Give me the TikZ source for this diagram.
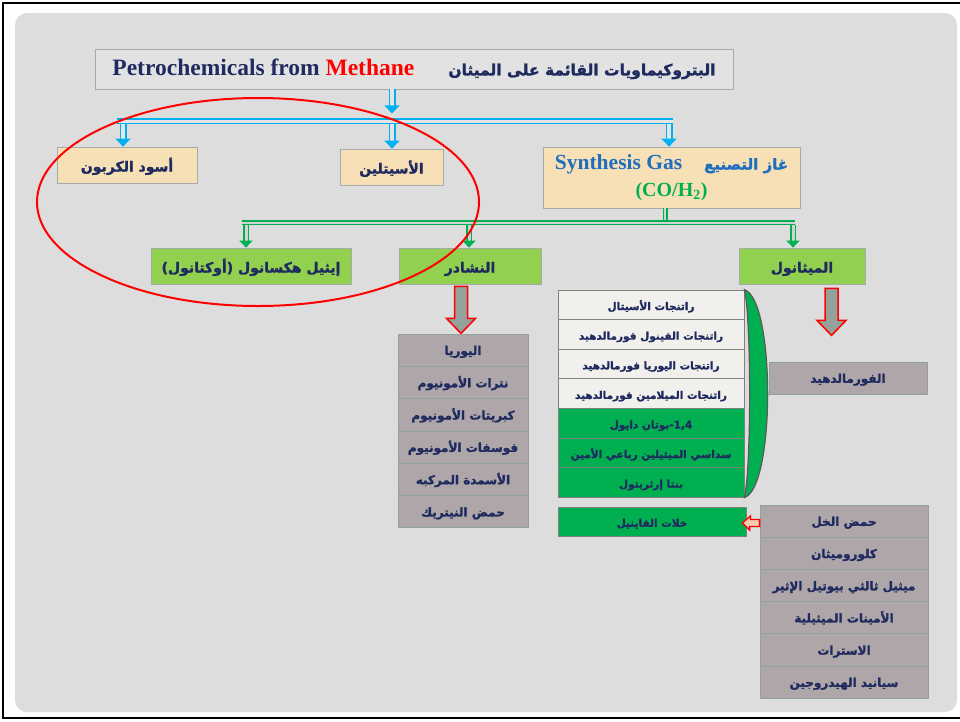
\documentclass[tikz,border=0pt]{standalone}
\usepackage{fontspec}
\setmainfont{Liberation Serif}
\newfontfamily\arabicfont[Script=Arabic, BoldFeatures={FakeBold=1.6}]{DejaVu Sans}
\TeXXeTstate=1
\usetikzlibrary{arrows.meta,calc}

\definecolor{navyt}{HTML}{1F2B5F}
\definecolor{skyb}{HTML}{00B0F0}
\definecolor{wheatf}{HTML}{F7DFB6}
\definecolor{limef}{HTML}{92D050}
\definecolor{grnf}{HTML}{00B050}
\definecolor{mauvef}{HTML}{AEA6A8}
\definecolor{sepc}{HTML}{8FA39B}
\definecolor{edgec}{HTML}{A3ACAA}
\definecolor{paperf}{HTML}{F2F0ED}
\definecolor{panelf}{HTML}{DDDDDD}
\definecolor{titlef}{HTML}{E2E2E2}
\definecolor{arrowf}{HTML}{95A19B}
\definecolor{peachf}{HTML}{F8CBAD}
\definecolor{synblue}{HTML}{1F6FC0}

\newcommand{\artext}[1]{{\arabicfont\bfseries\beginR #1\endR}}

\tikzset{
  flatbox/.style={draw=edgec, line width=0.8pt, inner sep=0pt, text=navyt},
  titlebox/.style={flatbox, fill=titlef, minimum width=638, minimum height=40},
  wheatbox/.style={flatbox, fill=wheatf, minimum height=36, text height=14.5pt, text depth=1.5pt, font=\fontsize{14}{16}\selectfont},
  limebox/.style={flatbox, fill=limef, minimum height=36, text height=14.5pt, text depth=1.5pt, font=\fontsize{14}{16}\selectfont},
  cell/.style={flatbox, draw=sepc, fill=mauvef, minimum height=32.3, text height=11pt, text depth=1.5pt, font=\fontsize{12}{14}\selectfont},
  rescell/.style={flatbox, draw=gray, fill=paperf, minimum width=186, minimum height=29.6, text height=11.5pt, text depth=1pt, font=\fontsize{10.5}{12}\selectfont},
  bluepipe/.style={draw=skyb, line width=1.5pt, double=gray!20, double distance=3pt},
  greenpipe/.style={draw=grnf, line width=1.5pt, double=gray!35, double distance=2pt},
  bluearr/.style={bluepipe, double distance=4pt, -{Triangle[length=8pt,width=15pt]}},
  greenarr/.style={greenpipe, double distance=3pt, -{Triangle[length=7pt,width=13pt]}},
  bigarrow/.style={draw=red, line width=1.5pt, fill=arrowf, line join=miter}
}

\begin{document}
\begin{tikzpicture}[x=1pt,y=-1pt]
  \useasboundingbox (0,0) rectangle (960,721);
  \fill[white] (0,0) rectangle (960,721);

  % Slide frame and panel
  \draw[line width=2.5pt] (3,3) rectangle (990,718);
  \fill[panelf, rounded corners=12pt] (15,13) rectangle (957,712);

  % Title
  \node[titlebox] (title) at (414,69) {{\fontsize{23.5}{26}\selectfont\bfseries Petrochemicals from \textcolor{red}{Methane}}\hspace{34pt}{\fontsize{15.5}{18}\selectfont\artext{البتروكيماويات القائمة على الميثان}}};

  % First level
  \node[wheatbox, minimum width=140] (carbon) at (127,165) {\artext{أسود الكربون}};
  \node[wheatbox, minimum width=103] (acet) at (391.5,167) {\artext{الأسيتلين}};
  \node[flatbox, fill=wheatf, minimum width=257, minimum height=61, align=center] (syn) at (671.5,177.5)
    {{\color{synblue}\fontsize{21.5}{23}\selectfont\bfseries Synthesis Gas}\hspace{22pt}{\color{synblue}\fontsize{15}{18}\selectfont\artext{غاز التصنيع}}\\[7pt]
     {\color{grnf}\fontsize{20}{22}\selectfont\bfseries (CO/H\textsubscript{2})}};

  % Blue branches
  \coordinate (jb) at (392,121);
  \coordinate (bl) at (117,121);
  \coordinate (br) at (673,121);
  \coordinate (b1) at (123,124);
  \coordinate (b2) at (392,124);
  \coordinate (b3) at (669,124);
  \draw[bluearr] (title.south -| jb) -- ++(0,24);
  \draw[bluepipe] (bl) -- (br);
  \draw[bluearr] (b1) -- (b1 |- carbon.north);
  \draw[bluearr] (b2) -- (b2 |- acet.north);
  \draw[bluearr] (b3) -- (b3 |- syn.north);

  % Second level
  \node[limebox, minimum width=200] (oct) at (251,266) {\artext{إيثيل هكسانول (أوكتانول)}};
  \node[limebox, minimum width=142] (amm) at (470,266) {\artext{النشادر}};
  \node[limebox, minimum width=126] (meth) at (802,266) {\artext{الميثانول}};

  % Green branches
  \coordinate (g0) at (665,222.5);
  \coordinate (gl) at (242,222.5);
  \coordinate (gr) at (795,222.5);
  \coordinate (g1) at (246,225);
  \coordinate (g2) at (469,225);
  \coordinate (g3) at (793,225);
  \draw[greenpipe] (syn.south -| g0) -- (g0);
  \draw[greenpipe] (gl) -- (gr);
  \draw[greenarr] (g1) -- (g1 |- oct.north);
  \draw[greenarr] (g2) -- (g2 |- amm.north);
  \draw[greenarr] (g3) -- (g3 |- meth.north);

  % Ammonia products
  \node[cell, minimum width=130] (amm1) at (463,350.2) {\artext{اليوريا}};
  \node[cell, minimum width=130] (amm2) at (463,382.5) {\artext{نترات الأمونيوم}};
  \node[cell, minimum width=130] (amm3) at (463,414.8) {\artext{كبريتات الأمونيوم}};
  \node[cell, minimum width=130] (amm4) at (463,447.1) {\artext{فوسفات الأمونيوم}};
  \node[cell, minimum width=130] (amm5) at (463,479.4) {\artext{الأسمدة المركبه}};
  \node[cell, minimum width=130] (amm6) at (463,511.7) {\artext{حمض النيتريك}};
  \draw[bigarrow] ($(amm.south)+(-15.5,2)$) -- ++(0,32) -- ++(-8,0) -- ++(14.5,15) -- ++(14.5,-15) -- ++(-8,0) -- ++(0,-32) -- cycle;

  % Formaldehyde resins
  \node[rescell] (res1) at (651,304.8) {\artext{راتنجات الأسيتال}};
  \node[rescell] (res2) at (651,334.4) {\artext{راتنجات الفينول فورمالدهيد}};
  \node[rescell] (res3) at (651,364.0) {\artext{راتنجات اليوريا فورمالدهيد}};
  \node[rescell] (res4) at (651,393.6) {\artext{راتنجات الميلامين فورمالدهيد}};
  \node[rescell, fill=grnf] (res5) at (651,423.2) {\artext{\beginL 1,4\endL-بوتان دايول}};
  \node[rescell, fill=grnf] (res6) at (651,452.8) {\artext{سداسي الميثيلين رباعي الأمين}};
  \node[rescell, fill=grnf] (res7) at (651,482.4) {\artext{بنتا إرثريتول}};
  \draw[draw=black!65, line width=1.2pt, fill=grnf] (res1.north east)
    .. controls ($(res1.north east)+(31,10)$) and ($(res7.south east)+(31,-10)$) .. (res7.south east)
    .. controls ($(res7.south east)+(7,-30)$) and ($(res1.north east)+(7,30)$) .. (res1.north east) -- cycle;

  % Methanol products
  \node[cell, minimum width=158, minimum height=32] (fa) at (848,378) {\artext{الفورمالدهيد}};
  \draw[bigarrow] ($(meth.south)+(23,4)$) -- ++(0,32) -- ++(-8,0) -- ++(14.5,15) -- ++(14.5,-15) -- ++(-8,0) -- ++(0,-32) -- cycle;
  \node[rescell, fill=grnf, minimum width=188, minimum height=29] (vin) at (652,521.5) {\artext{خلات الفاينيل}};
  \node[cell, minimum width=168] (ac1) at (844,521.1) {\artext{حمض الخل}};
  \node[cell, minimum width=168] (ac2) at (844,553.3) {\artext{كلوروميثان}};
  \node[cell, minimum width=168] (ac3) at (844,585.5) {\artext{ميثيل ثالثي بيوتيل الإثير}};
  \node[cell, minimum width=168] (ac4) at (844,617.7) {\artext{الأمينات الميثيلية}};
  \node[cell, minimum width=168] (ac5) at (844,649.9) {\artext{الاسترات}};
  \node[cell, minimum width=168] (ac6) at (844,682.1) {\artext{سيانيد الهيدروجين}};
  \draw[draw=red, line width=1.3pt, fill=peachf] ($(vin.east)+(-4,1.5)$) -- ++(8,-7) -- ++(0,3.5) -- (ac1.west |- 0,519.5) -- (ac1.west |- 0,526.5) -- ++(-10,0) -- ++(0,3.5) -- cycle;

  % Highlight
  \draw[red, line width=2pt] (258,202) ellipse [x radius=221, y radius=104];
\end{tikzpicture}
\end{document}
